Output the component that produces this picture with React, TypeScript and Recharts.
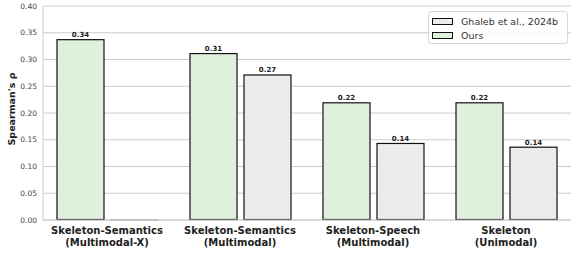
import React from 'react';
import { BarChart, Bar, XAxis, YAxis, CartesianGrid, LabelList } from 'recharts';

const categories = [
  ['Skeleton-Semantics', '(Multimodal-X)'],
  ['Skeleton-Semantics', '(Multimodal)'],
  ['Skeleton-Speech', '(Multimodal)'],
  ['Skeleton', '(Unimodal)'],
];
const oursValues = [0.338, 0.312, 0.22, 0.22];
const ghalebValues = [0, 0.272, 0.144, 0.137];
const yTicks = [0, 0.05, 0.1, 0.15, 0.2, 0.25, 0.3, 0.35, 0.4];
const legendItems = ['Ghaleb et al., 2024b', 'Ours'];

const GREEN = '#dff0dc';
const GREY = '#ececec';
const FONT = '"DejaVu Sans", sans-serif';

const data = categories.map((c, i) => ({
  name: c.join('\n'),
  ours: oursValues[i],
  ghaleb: ghalebValues[i],
}));

const BarShape = (props: any) => {
  const { x, y, width, height, fill } = props;
  if (!height || height < 0.5) {
    return <rect x={x} y={y - 1} width={width} height={1.6} fill="#a8a8a8" />;
  }
  return <rect x={x + 0.5} y={y + 0.5} width={width - 1} height={height - 1} fill={fill} stroke="#111" strokeWidth={1.2} />;
};

const ValueLabel = (props: any) => {
  const { x, y, width, value } = props;
  if (!value) return null;
  return (
    <text x={x + width / 2} y={y - 2} textAnchor="middle" fontSize={7} fontWeight="bold" fill="#222" fontFamily={FONT}>
      {value.toFixed(2)}
    </text>
  );
};

// two-line category label, first baseline ~234, second ~246
const CategoryTick = (props: any) => {
  const { x, payload } = props;
  const lines = String(payload.value).split('\n');
  return (
    <text x={x} y={234} textAnchor="middle" fontSize={10} fontWeight="bold" fill="#222" fontFamily={FONT}>
      {lines.map((l, i) => (
        <tspan key={i} x={x} dy={i === 0 ? 0 : 11.5}>{l}</tspan>
      ))}
    </text>
  );
};

const LegendBox = () => {
  const colors = [GREY, GREEN];
  return (
    <div style={{
      position: 'absolute', left: 428, top: 11, width: 140, height: 33, boxSizing: 'border-box',
      background: 'rgba(255,255,255,0.85)', border: '1px solid #d8d8d8', borderRadius: 3,
      padding: '2px 0 0 3px', fontFamily: FONT, fontSize: 9.5, color: '#333',
    }}>
      {legendItems.map((label, i) => (
        <div key={label} style={{ display: 'flex', alignItems: 'center', height: 14 }}>
          <span style={{ display: 'inline-block', width: 19, height: 5, background: colors[i], border: '1px solid #111', marginRight: 8 }} />
          <span>{label}</span>
        </div>
      ))}
    </div>
  );
};

export default function App() {
  return (
    <div style={{ position: 'absolute', left: 0, top: 0, width: 571, height: 253, background: '#fff' }}>
      <BarChart width={571} height={253} data={data} margin={{ top: 6, right: 0, left: 0, bottom: 0 }} barGap={6} barSize={48}>
        <CartesianGrid vertical={false} stroke="#cccccc" strokeWidth={1} />
        <XAxis
          dataKey="name"
          height={33}
          padding={{ left: -2.5, right: -1.5 }}
          axisLine={{ stroke: '#cccccc' }}
          tickLine={false}
          interval={0}
          tick={<CategoryTick />}
        />
        <YAxis
          width={43}
          domain={[0, 0.4]}
          ticks={yTicks}
          tickFormatter={(v: number) => v.toFixed(2)}
          axisLine={{ stroke: '#cccccc' }}
          tickLine={false}
          tickSize={0}
          tickMargin={6}
          tick={{ fontSize: 7.5, fill: '#444', fontFamily: FONT }}
          label={{
            value: "Spearman's ρ", angle: -90, position: 'insideLeft', dx: 7, dy: -4,
            style: { fontSize: 9.5, fontWeight: 'bold', fill: '#222', fontFamily: FONT, textAnchor: 'middle' },
          }}
        />
        <Bar dataKey="ours" name="Ours" fill={GREEN} shape={<BarShape />} isAnimationActive={false}>
          <LabelList dataKey="ours" content={<ValueLabel />} />
        </Bar>
        <Bar dataKey="ghaleb" name="Ghaleb et al., 2024b" fill={GREY} shape={<BarShape />} isAnimationActive={false}>
          <LabelList dataKey="ghaleb" content={<ValueLabel />} />
        </Bar>
      </BarChart>
      <LegendBox />
    </div>
  );
}
